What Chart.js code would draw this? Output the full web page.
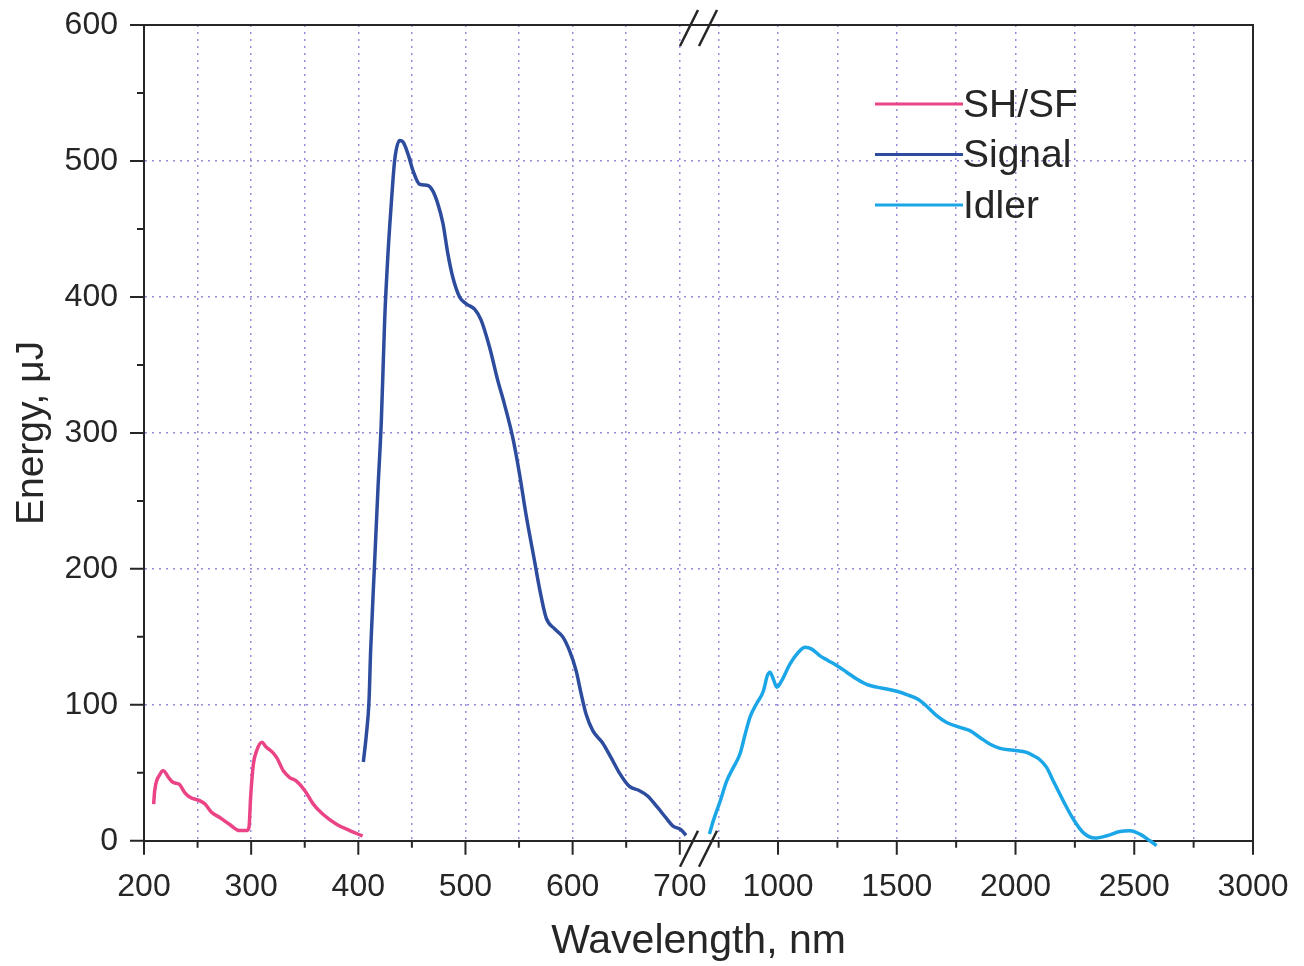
<!DOCTYPE html>
<html>
<head>
<meta charset="utf-8">
<script src="https://cdn.jsdelivr.net/npm/chart.js@4.4.0/dist/chart.umd.min.js"></script>
<style>
  body { margin: 0; background: #fff; }
  #wrap { width: 1304px; height: 966px; }
</style>
</head>
<body>
<div id="wrap"><canvas id="myChart" width="1304" height="966"></canvas></div>
<script>
// SH/SF curve
const shWavelength = [209, 210, 215, 218, 223, 227, 233, 238, 243, 252, 257, 263, 271, 280, 289, 296, 298, 299.5, 302, 305, 310, 314, 320, 324, 330, 336, 342, 350, 358, 367, 380, 392, 404];
const shEnergy = [27, 37, 49, 51.5, 46.5, 43, 41.5, 35.5, 32, 29.5, 27, 21, 17, 12, 7.5, 7.5, 10, 32, 56, 66, 72.5, 69, 65, 61, 51.5, 46.5, 44, 37, 27, 19.5, 12, 7.5, 3.5];

// Signal curve
const signalWavelength = [404.7, 407.5, 410, 411.5, 415, 418.4, 421.5, 424.6, 427.7, 430.8, 434, 438.6, 441.7, 446.4, 451, 457, 465, 469.5, 474, 479, 483.5, 488, 494.5, 500.7, 508.5, 514.6, 522.5, 530, 536.4, 544, 550.4, 556.5, 564.4, 569, 575.3, 583, 590.8, 597, 603.3, 608, 612.6, 618.8, 628, 636, 643.6, 653, 662, 670, 679.3, 687, 693.4, 701.3, 705.8];
const signalEnergy = [58, 78, 103, 140, 201, 260, 309, 383, 432, 469, 501, 515, 514, 505, 493, 483, 482, 478, 469, 454, 432, 415, 400, 395, 391, 383, 363, 339, 321, 297, 270, 240, 206, 186, 164, 156, 150, 140, 125, 108, 93, 81, 72, 61, 50, 40, 37, 33, 24.5, 17, 11, 8, 4];

// Idler curve
const idlerWavelength = [711, 728, 756, 784, 812, 840, 861, 882, 910, 938, 955, 966, 980, 995, 1016, 1050, 1085, 1114, 1142, 1177, 1212, 1247, 1289, 1331, 1373, 1416, 1458, 1500, 1542, 1591, 1626, 1668, 1710, 1766, 1808, 1850, 1893, 1935, 1991, 2047, 2075, 2100, 2131, 2159, 2201, 2243, 2285, 2335, 2384, 2440, 2482, 2524, 2566, 2594];
const idlerEnergy = [5, 15, 29, 44, 54, 64, 78, 91, 101, 110, 121.5, 124, 119, 113, 118, 130, 138.5, 142.3, 141, 136, 132.5, 129, 124, 119, 115, 113, 111.6, 110, 107.5, 104, 99, 92, 87, 83.4, 81, 76, 71, 68, 66.6, 65, 62.6, 60, 54, 44, 29.4, 16, 6, 2, 3.7, 6.9, 7.4, 4.9, 0, -3.5];

// axis ticks
const yMajorTicks = [0, 100, 200, 300, 400, 500, 600];
const yMinorTicks = [50, 150, 250, 350, 450, 550];
const xLeftMajorTicks = [200, 300, 400, 500, 600, 700];
const xLeftMinorTicks = [250, 350, 450, 550, 650];
const xRightMajorTicks = [1000, 1500, 2000, 2500, 3000];
const xRightMinorTicks = [750, 1250, 1750, 2250, 2750];

const inkColor = '#262626';
const gridColor = 'rgba(120, 100, 205, 0.75)';
const fontFamily = "'Liberation Sans', Arial, sans-serif";

function points(xs, ys) {
    return xs.map((x, i) => ({ x: x, y: ys[i] }));
}

function fixedTicks(majors, minors) {
    return function (scale) {
        scale.ticks = majors.concat(minors).sort((a, b) => a - b).map(v => ({ value: v }));
    };
}

function gridFor(hidden) {
    return function (ctx) {
        if (!ctx.tick || hidden.includes(ctx.tick.value)) return 'rgba(0,0,0,0)';
        return gridColor;
    };
}

// label overflow would otherwise push the plot area in
function fitX(s) {
    s.height = 76;
    s.paddingLeft = 0;
    s.paddingRight = 0;
}
function fitY(s) {
    s.width = 144;
    s.paddingTop = 0;
    s.paddingBottom = 0;
}

// top/right frame, tick marks and the axis break
const framePlugin = {
    id: 'frame',
    afterDatasetsDraw(chart) {
        const ctx = chart.ctx;
        const area = chart.chartArea;
        const y = chart.scales.y, xL = chart.scales.xL, xR = chart.scales.xR;
        ctx.save();
        ctx.strokeStyle = inkColor;
        ctx.lineWidth = 2;
        ctx.beginPath();
        ctx.moveTo(area.left, area.top);
        ctx.lineTo(area.right, area.top);
        ctx.lineTo(area.right, area.bottom);
        yMajorTicks.forEach(v => { const p = y.getPixelForValue(v); ctx.moveTo(area.left - 14, p); ctx.lineTo(area.left, p); });
        yMinorTicks.forEach(v => { const p = y.getPixelForValue(v); ctx.moveTo(area.left - 7, p); ctx.lineTo(area.left, p); });
        xLeftMajorTicks.forEach(v => { const p = xL.getPixelForValue(v); ctx.moveTo(p, area.bottom); ctx.lineTo(p, area.bottom + 14); });
        xLeftMinorTicks.forEach(v => { const p = xL.getPixelForValue(v); ctx.moveTo(p, area.bottom); ctx.lineTo(p, area.bottom + 7); });
        xRightMajorTicks.forEach(v => { const p = xR.getPixelForValue(v); ctx.moveTo(p, area.bottom); ctx.lineTo(p, area.bottom + 14); });
        xRightMinorTicks.forEach(v => { const p = xR.getPixelForValue(v); ctx.moveTo(p, area.bottom); ctx.lineTo(p, area.bottom + 7); });
        ctx.stroke();

        // "//" marks where the two x scales meet
        const bx = xL.right;
        ctx.lineWidth = 2.5;
        ctx.beginPath();
        [area.top + 3, area.bottom + 8].forEach(cy => {
            [bx - 9, bx + 10].forEach(cx => {
                ctx.moveTo(cx - 9, cy + 18);
                ctx.lineTo(cx + 9, cy - 18);
            });
        });
        ctx.stroke();
        ctx.restore();
    }
};

// legend inside the plot
const legendPlugin = {
    id: 'insideLegend',
    afterDatasetsDraw(chart) {
        const ctx = chart.ctx;
        const area = chart.chartArea;
        const x0 = area.left + 731;
        ctx.save();
        ctx.font = '39px ' + fontFamily;
        ctx.textBaseline = 'middle';
        ctx.textAlign = 'left';
        chart.data.datasets.forEach((ds, i) => {
            const yy = area.top + 79 + i * 50.5;
            ctx.strokeStyle = ds.borderColor;
            ctx.lineWidth = 3;
            ctx.beginPath();
            ctx.moveTo(x0, yy);
            ctx.lineTo(x0 + 88, yy);
            ctx.stroke();
            ctx.fillStyle = inkColor;
            ctx.fillText(ds.label, x0 + 88, yy + 2);
        });
        ctx.restore();
    }
};

const lineStyle = {
    borderWidth: 3.5,
    pointRadius: 0,
    fill: false,
    cubicInterpolationMode: 'monotone',
    clip: 8
};

const data = {
    datasets: [
        Object.assign({ label: 'SH/SF', borderColor: '#ea4386', xAxisID: 'xL', yAxisID: 'y', data: points(shWavelength, shEnergy) }, lineStyle),
        Object.assign({ label: 'Signal', borderColor: '#2d4c9e', xAxisID: 'xL', yAxisID: 'y', data: points(signalWavelength, signalEnergy) }, lineStyle),
        Object.assign({ label: 'Idler', borderColor: '#1ba6e8', xAxisID: 'xR', yAxisID: 'y', data: points(idlerWavelength, idlerEnergy) }, lineStyle)
    ]
};

const tickFont = { family: fontFamily, size: 32 };

const config = {
    type: 'line',
    data: data,
    options: {
        responsive: false,
        animation: false,
        layout: { padding: { top: 25, right: 51, bottom: 0, left: 0 } },
        plugins: {
            legend: { display: false },
            tooltip: { enabled: false },
            title: {
                display: true,
                text: 'Wavelength, nm',
                position: 'bottom',
                fullSize: false,
                color: inkColor,
                font: { family: fontFamily, size: 41, weight: 'normal' },
                padding: { top: 0, bottom: 0 }
            }
        },
        scales: {
            xL: {
                type: 'linear',
                position: 'bottom',
                stack: 'wl',
                stackWeight: 554,
                min: 200,
                max: 717,
                afterBuildTicks: fixedTicks(xLeftMajorTicks, xLeftMinorTicks),
                afterFit: fitX,
                ticks: {
                    autoSkip: false,
                    maxRotation: 0,
                    padding: 27,
                    color: inkColor,
                    font: tickFont,
                    callback: v => xLeftMajorTicks.includes(v) ? String(v) : ''
                },
                grid: { drawTicks: false, lineWidth: 1.5, color: gridFor([200]) },
                border: { display: true, color: inkColor, width: 2, dash: [2, 5] }
            },
            xR: {
                type: 'linear',
                position: 'bottom',
                stack: 'wl',
                stackWeight: 555,
                min: 663,
                max: 3000,
                afterBuildTicks: fixedTicks(xRightMajorTicks, xRightMinorTicks),
                afterFit: fitX,
                ticks: {
                    autoSkip: false,
                    maxRotation: 0,
                    padding: 27,
                    color: inkColor,
                    font: tickFont,
                    callback: v => xRightMajorTicks.includes(v) ? String(v) : ''
                },
                grid: { drawTicks: false, lineWidth: 1.5, color: gridFor([3000]) },
                border: { display: true, color: inkColor, width: 2, dash: [2, 5] }
            },
            y: {
                type: 'linear',
                position: 'left',
                min: 0,
                max: 600,
                afterBuildTicks: fixedTicks(yMajorTicks, yMinorTicks),
                afterFit: fitY,
                ticks: {
                    autoSkip: false,
                    padding: 26,
                    color: inkColor,
                    font: tickFont,
                    callback: v => yMajorTicks.includes(v) ? String(v) : ''
                },
                grid: { drawTicks: false, lineWidth: 1.5, color: gridFor([0, 600].concat(yMinorTicks)) },
                border: { display: true, color: inkColor, width: 2, dash: [2, 5] },
                title: {
                    display: true,
                    text: 'Energy, \u03bcJ',
                    color: inkColor,
                    font: { family: fontFamily, size: 39 },
                    padding: { top: 9, bottom: 0 }
                }
            }
        }
    },
    plugins: [framePlugin, legendPlugin]
};

const myChart = new Chart(document.getElementById('myChart'), config);
</script>
</body>
</html>
